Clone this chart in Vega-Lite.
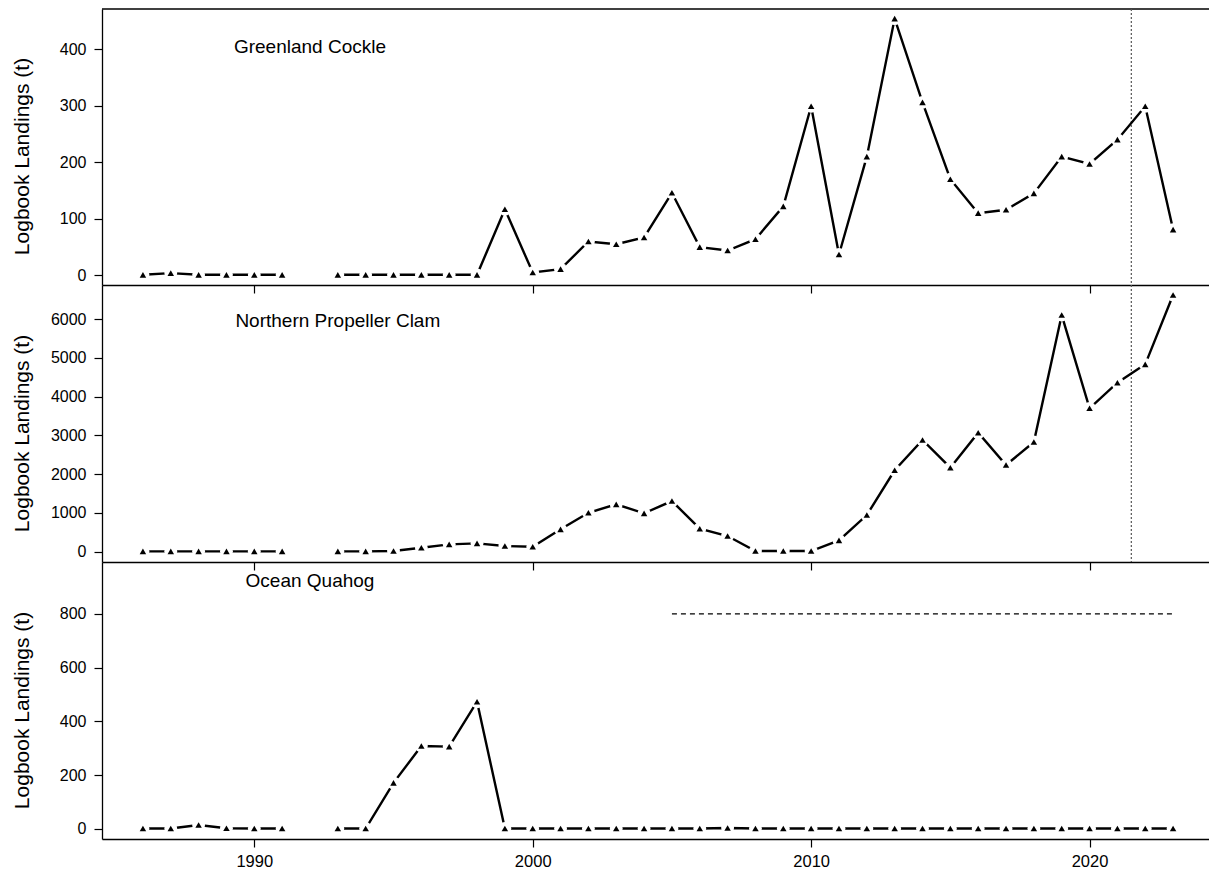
{
  "$schema": "https://vega.github.io/schema/vega-lite/v6.json",
  "background": "white",
  "padding": {"left": 11, "top": 8, "right": 0, "bottom": 0},
  "spacing": 0,
  "bounds": "flush",
  "config": {
    "view": {"stroke": null},
    "axis": {
      "grid": false,
      "domainColor": "black",
      "domainWidth": 1.3,
      "tickColor": "black",
      "tickWidth": 1.2,
      "tickSize": 8,
      "labelColor": "black",
      "titleColor": "black",
      "labelFont": "Liberation Sans",
      "titleFont": "Liberation Sans",
      "titleFontWeight": "normal"
    },
    "text": {"font": "Liberation Sans"}
  },
  "datasets": {
    "cockle": [
      {"year": 1986, "value": 1, "period": "a"},
      {"year": 1987, "value": 4, "period": "a"},
      {"year": 1988, "value": 1, "period": "a"},
      {"year": 1989, "value": 1, "period": "a"},
      {"year": 1990, "value": 1, "period": "a"},
      {"year": 1991, "value": 1, "period": "a"},
      {"year": 1993, "value": 1, "period": "b"},
      {"year": 1994, "value": 1, "period": "b"},
      {"year": 1995, "value": 1, "period": "b"},
      {"year": 1996, "value": 1, "period": "b"},
      {"year": 1997, "value": 1, "period": "b"},
      {"year": 1998, "value": 1, "period": "b"},
      {"year": 1999, "value": 117, "period": "b"},
      {"year": 2000, "value": 5, "period": "b"},
      {"year": 2001, "value": 11, "period": "b"},
      {"year": 2002, "value": 60, "period": "b"},
      {"year": 2003, "value": 55, "period": "b"},
      {"year": 2004, "value": 67, "period": "b"},
      {"year": 2005, "value": 146, "period": "b"},
      {"year": 2006, "value": 50, "period": "b"},
      {"year": 2007, "value": 44, "period": "b"},
      {"year": 2008, "value": 64, "period": "b"},
      {"year": 2009, "value": 122, "period": "b"},
      {"year": 2010, "value": 299, "period": "b"},
      {"year": 2011, "value": 37, "period": "b"},
      {"year": 2012, "value": 210, "period": "b"},
      {"year": 2013, "value": 454, "period": "b"},
      {"year": 2014, "value": 306, "period": "b"},
      {"year": 2015, "value": 170, "period": "b"},
      {"year": 2016, "value": 110, "period": "b"},
      {"year": 2017, "value": 116, "period": "b"},
      {"year": 2018, "value": 145, "period": "b"},
      {"year": 2019, "value": 210, "period": "b"},
      {"year": 2020, "value": 197, "period": "b"},
      {"year": 2021, "value": 240, "period": "b"},
      {"year": 2022, "value": 299, "period": "b"},
      {"year": 2023, "value": 81, "period": "b"}
    ],
    "clam": [
      {"year": 1986, "value": 10, "period": "a"},
      {"year": 1987, "value": 10, "period": "a"},
      {"year": 1988, "value": 10, "period": "a"},
      {"year": 1989, "value": 10, "period": "a"},
      {"year": 1990, "value": 10, "period": "a"},
      {"year": 1991, "value": 10, "period": "a"},
      {"year": 1993, "value": 10, "period": "b"},
      {"year": 1994, "value": 10, "period": "b"},
      {"year": 1995, "value": 20, "period": "b"},
      {"year": 1996, "value": 103, "period": "b"},
      {"year": 1997, "value": 190, "period": "b"},
      {"year": 1998, "value": 216, "period": "b"},
      {"year": 1999, "value": 147, "period": "b"},
      {"year": 2000, "value": 129, "period": "b"},
      {"year": 2001, "value": 578, "period": "b"},
      {"year": 2002, "value": 1006, "period": "b"},
      {"year": 2003, "value": 1223, "period": "b"},
      {"year": 2004, "value": 991, "period": "b"},
      {"year": 2005, "value": 1308, "period": "b"},
      {"year": 2006, "value": 594, "period": "b"},
      {"year": 2007, "value": 405, "period": "b"},
      {"year": 2008, "value": 18, "period": "b"},
      {"year": 2009, "value": 18, "period": "b"},
      {"year": 2010, "value": 18, "period": "b"},
      {"year": 2011, "value": 294, "period": "b"},
      {"year": 2012, "value": 947, "period": "b"},
      {"year": 2013, "value": 2101, "period": "b"},
      {"year": 2014, "value": 2883, "period": "b"},
      {"year": 2015, "value": 2168, "period": "b"},
      {"year": 2016, "value": 3071, "period": "b"},
      {"year": 2017, "value": 2237, "period": "b"},
      {"year": 2018, "value": 2831, "period": "b"},
      {"year": 2019, "value": 6108, "period": "b"},
      {"year": 2020, "value": 3701, "period": "b"},
      {"year": 2021, "value": 4361, "period": "b"},
      {"year": 2022, "value": 4836, "period": "b"},
      {"year": 2023, "value": 6625, "period": "b"}
    ],
    "quahog": [
      {"year": 1986, "value": 1, "period": "a"},
      {"year": 1987, "value": 1, "period": "a"},
      {"year": 1988, "value": 14, "period": "a"},
      {"year": 1989, "value": 2, "period": "a"},
      {"year": 1990, "value": 1, "period": "a"},
      {"year": 1991, "value": 1, "period": "a"},
      {"year": 1993, "value": 1, "period": "b"},
      {"year": 1994, "value": 1, "period": "b"},
      {"year": 1995, "value": 171, "period": "b"},
      {"year": 1996, "value": 308, "period": "b"},
      {"year": 1997, "value": 306, "period": "b"},
      {"year": 1998, "value": 473, "period": "b"},
      {"year": 1999, "value": 1, "period": "b"},
      {"year": 2000, "value": 1, "period": "b"},
      {"year": 2001, "value": 1, "period": "b"},
      {"year": 2002, "value": 1, "period": "b"},
      {"year": 2003, "value": 1, "period": "b"},
      {"year": 2004, "value": 1, "period": "b"},
      {"year": 2005, "value": 1, "period": "b"},
      {"year": 2006, "value": 1, "period": "b"},
      {"year": 2007, "value": 3, "period": "b"},
      {"year": 2008, "value": 1, "period": "b"},
      {"year": 2009, "value": 1, "period": "b"},
      {"year": 2010, "value": 1, "period": "b"},
      {"year": 2011, "value": 1, "period": "b"},
      {"year": 2012, "value": 1, "period": "b"},
      {"year": 2013, "value": 1, "period": "b"},
      {"year": 2014, "value": 1, "period": "b"},
      {"year": 2015, "value": 1, "period": "b"},
      {"year": 2016, "value": 1, "period": "b"},
      {"year": 2017, "value": 1, "period": "b"},
      {"year": 2018, "value": 1, "period": "b"},
      {"year": 2019, "value": 1, "period": "b"},
      {"year": 2020, "value": 1, "period": "b"},
      {"year": 2021, "value": 1, "period": "b"},
      {"year": 2022, "value": 1, "period": "b"},
      {"year": 2023, "value": 1, "period": "b"}
    ]
  },
  "vconcat": [
    {
      "width": 1107,
      "height": 276,
      "data": {"name": "cockle"},
      "encoding": {
        "x": {"field": "year", "type": "quantitative",
              "scale": {"domain": [1984.53, 2024.29], "nice": false, "zero": false},
              "axis": {"values": [1990, 2000, 2010, 2020], "labels": false, "title": null}},
        "y": {"field": "value", "type": "quantitative",
              "scale": {"domain": [-17, 471], "nice": false, "zero": false},
              "axis": {"values": [0, 100, 200, 300, 400], "format": "d", "labelFontSize": 16, "labelPadding": 8,
                       "title": "Logbook Landings (t)", "titleFontSize": 21, "titleX": -74, "titleY": 147, "titleBaseline": "alphabetic"}}
      },
      "layer": [
        {"data": {"values": [{"value": 471}]}, "mark": {"type": "rule", "color": "black", "strokeWidth": 1.3}, "encoding": {"x": null}},
        {"data": {"values": [{"year": 2021.5}]}, "mark": {"type": "rule", "color": "#555555", "strokeWidth": 1.2, "strokeDash": [2, 2]}, "encoding": {"y": null}},
        {"mark": {"type": "line", "color": "black", "strokeWidth": 2.4}, "encoding": {"detail": {"field": "period"}}},
        {"mark": {"type": "point", "shape": "circle", "filled": true, "fill": "white", "opacity": 1, "size": 165, "strokeWidth": 0}},
        {"mark": {"type": "point", "shape": "triangle-up", "filled": true, "color": "black", "opacity": 1, "size": 42}},
        {"data": {"values": [{"year": 1992, "value": 403, "label": "Greenland Cockle"}]},
         "mark": {"type": "text", "fontSize": 19, "fill": "black", "align": "center", "baseline": "middle"},
         "encoding": {"text": {"field": "label"}}}
      ]
    },
    {
      "width": 1107,
      "height": 277,
      "data": {"name": "clam"},
      "encoding": {
        "x": {"field": "year", "type": "quantitative",
              "scale": {"domain": [1984.53, 2024.29], "nice": false, "zero": false},
              "axis": {"values": [1990, 2000, 2010, 2020], "labels": false, "title": null}},
        "y": {"field": "value", "type": "quantitative",
              "scale": {"domain": [-265, 6883], "nice": false, "zero": false},
              "axis": {"values": [0, 1000, 2000, 3000, 4000, 5000, 6000], "format": "d", "labelFontSize": 16, "labelPadding": 8,
                       "title": "Logbook Landings (t)", "titleFontSize": 21, "titleX": -74, "titleY": 148, "titleBaseline": "alphabetic"}}
      },
      "layer": [
        {"data": {"values": [{"year": 2021.5}]}, "mark": {"type": "rule", "color": "#555555", "strokeWidth": 1.2, "strokeDash": [2, 2]}, "encoding": {"y": null}},
        {"mark": {"type": "line", "color": "black", "strokeWidth": 2.4}, "encoding": {"detail": {"field": "period"}}},
        {"mark": {"type": "point", "shape": "circle", "filled": true, "fill": "white", "opacity": 1, "size": 165, "strokeWidth": 0}},
        {"mark": {"type": "point", "shape": "triangle-up", "filled": true, "color": "black", "opacity": 1, "size": 42}},
        {"data": {"values": [{"year": 1993, "value": 5950, "label": "Northern Propeller Clam"}]},
         "mark": {"type": "text", "fontSize": 19, "fill": "black", "align": "center", "baseline": "middle"},
         "encoding": {"text": {"field": "label"}}}
      ]
    },
    {
      "width": 1107,
      "height": 277,
      "data": {"name": "quahog"},
      "encoding": {
        "x": {"field": "year", "type": "quantitative",
              "scale": {"domain": [1984.53, 2024.29], "nice": false, "zero": false},
              "axis": {"values": [1990, 2000, 2010, 2020], "format": "d", "labelFontSize": 16.5, "labelPadding": 6, "title": null}},
        "y": {"field": "value", "type": "quantitative",
              "scale": {"domain": [-38, 993], "nice": false, "zero": false},
              "axis": {"values": [0, 200, 400, 600, 800], "format": "d", "labelFontSize": 16, "labelPadding": 8,
                       "title": "Logbook Landings (t)", "titleFontSize": 21, "titleX": -74, "titleY": 148, "titleBaseline": "alphabetic"}}
      },
      "layer": [
        {"data": {"values": [{"year": 2005, "yearEnd": 2023, "value": 800}]},
         "mark": {"type": "rule", "color": "black", "strokeWidth": 1.2, "strokeDash": [5, 4]},
         "encoding": {"x2": {"field": "yearEnd"}}},
        {"mark": {"type": "line", "color": "black", "strokeWidth": 2.4}, "encoding": {"detail": {"field": "period"}}},
        {"mark": {"type": "point", "shape": "circle", "filled": true, "fill": "white", "opacity": 1, "size": 165, "strokeWidth": 0}},
        {"mark": {"type": "point", "shape": "triangle-up", "filled": true, "color": "black", "opacity": 1, "size": 42}},
        {"data": {"values": [{"year": 1992, "value": 921, "label": "Ocean Quahog"}]},
         "mark": {"type": "text", "fontSize": 19, "fill": "black", "align": "center", "baseline": "middle"},
         "encoding": {"text": {"field": "label"}}}
      ]
    }
  ]
}
